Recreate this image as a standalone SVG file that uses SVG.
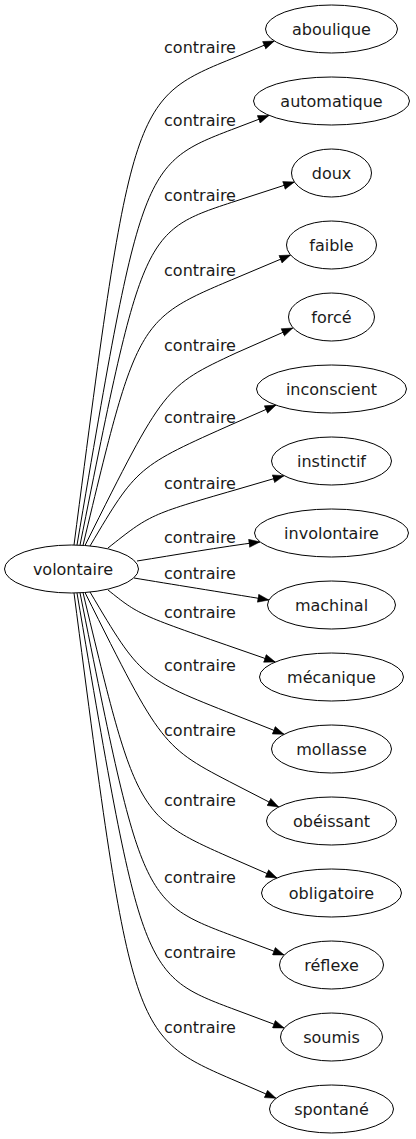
<svg xmlns="http://www.w3.org/2000/svg" width="416" height="1139" viewBox="0 0 416 1139">
<style>
.n ellipse{fill:#fff;stroke:#000;stroke-width:1}
.n text,.lbl text{font-family:"DejaVu Sans",sans-serif;font-size:16px;fill:#1a1a1a;text-anchor:middle}
.e path{fill:none;stroke:#000;stroke-width:1;marker-end:url(#arr)}
</style>
<defs>
<marker id="arr" markerUnits="userSpaceOnUse" markerWidth="12" markerHeight="9" refX="11.5" refY="4.5" orient="auto">
<path d="M0.5,0.5 L11.5,4.5 L0.5,8.5 z" fill="#000" stroke="#000" stroke-width="0.5"/>
</marker>
</defs>
<rect width="416" height="1139" fill="#fff"/>
<g id="edges" class="e">
<path d="M74,545 C132,99 132,99 236,57 L274.3,41"/>
<path d="M77,545 C141.8,163.8 141.8,163.8 236,128 L269,115.4"/>
<path d="M80,545.2 C142.8,231.3 142.8,231.3 236,201 L294.4,182"/>
<path d="M83,545.4 C137.1,319.5 137.1,319.5 236,278 L290.6,255"/>
<path d="M85,545.5 C164.5,386.4 164.5,386.4 236,353 L292.8,328"/>
<path d="M90,546 C137.1,466.5 137.1,466.5 235,423 L276,405.1"/>
<path d="M108,548 C150,514.6 150,514.6 235,490 L284,475.7"/>
<path d="M137,561 C175,555 220,547 260,541.9"/>
<path d="M134,578 C170,584 220,592 268.9,600"/>
<path d="M108,590 C138.7,614.6 138.7,614.6 235,648 L275.3,662"/>
<path d="M90,592 C140.9,677.9 140.9,677.9 235,715 L284,734.3"/>
<path d="M85,592.5 C161.9,746.8 161.9,746.8 236,785 L278.7,807"/>
<path d="M83,592.6 C136.8,816.6 136.8,816.6 236,860 L277,877.9"/>
<path d="M80,592.8 C141.8,901.9 141.8,901.9 236,937 L284.2,955"/>
<path d="M77,593 C141.9,974.9 141.9,974.9 236,1010 L284.2,1028"/>
<path d="M74,593 C131.6,1036.1 131.6,1036.1 236,1081 L276,1098.3"/>
</g>
<g id="labels" class="lbl">
<text x="200" y="53">contraire</text>
<text x="200" y="126">contraire</text>
<text x="200" y="201">contraire</text>
<text x="200" y="276">contraire</text>
<text x="200" y="351">contraire</text>
<text x="200" y="423">contraire</text>
<text x="200" y="489">contraire</text>
<text x="200" y="543">contraire</text>
<text x="200" y="579">contraire</text>
<text x="200" y="618">contraire</text>
<text x="200" y="671">contraire</text>
<text x="200" y="736">contraire</text>
<text x="200" y="806">contraire</text>
<text x="200" y="883">contraire</text>
<text x="200" y="958">contraire</text>
<text x="200" y="1033">contraire</text>
</g>
<g id="volontaire" class="n"><ellipse cx="71.5" cy="569" rx="67" ry="24"/><text x="73" y="575">volontaire</text></g>
<g id="aboulique" class="n"><ellipse cx="331.5" cy="29" rx="66" ry="24"/><text x="331.5" y="35">aboulique</text></g>
<g id="automatique" class="n"><ellipse cx="331.5" cy="101" rx="78" ry="24"/><text x="331.5" y="107">automatique</text></g>
<g id="doux" class="n"><ellipse cx="331.5" cy="173" rx="40" ry="24"/><text x="331.5" y="179">doux</text></g>
<g id="faible" class="n"><ellipse cx="331.5" cy="245" rx="45" ry="24"/><text x="331.5" y="251">faible</text></g>
<g id="force" class="n"><ellipse cx="331.5" cy="317" rx="43" ry="24"/><text x="331.5" y="323">forcé</text></g>
<g id="inconscient" class="n"><ellipse cx="331.5" cy="389" rx="75" ry="24"/><text x="331.5" y="395">inconscient</text></g>
<g id="instinctif" class="n"><ellipse cx="331.5" cy="461" rx="60" ry="24"/><text x="331.5" y="467">instinctif</text></g>
<g id="involontaire" class="n"><ellipse cx="331.5" cy="533" rx="77" ry="24"/><text x="331.5" y="539">involontaire</text></g>
<g id="machinal" class="n"><ellipse cx="331.5" cy="605" rx="64" ry="24"/><text x="331.5" y="611">machinal</text></g>
<g id="mecanique" class="n"><ellipse cx="331.5" cy="677" rx="72" ry="24"/><text x="331.5" y="683">mécanique</text></g>
<g id="mollasse" class="n"><ellipse cx="331.5" cy="749" rx="60" ry="24"/><text x="331.5" y="755">mollasse</text></g>
<g id="obeissant" class="n"><ellipse cx="331.5" cy="821" rx="65" ry="24"/><text x="331.5" y="827">obéissant</text></g>
<g id="obligatoire" class="n"><ellipse cx="331.5" cy="893" rx="70" ry="24"/><text x="331.5" y="899">obligatoire</text></g>
<g id="reflexe" class="n"><ellipse cx="331.5" cy="965" rx="52" ry="24"/><text x="331.5" y="971">réflexe</text></g>
<g id="soumis" class="n"><ellipse cx="331.5" cy="1037" rx="51" ry="24"/><text x="331.5" y="1043">soumis</text></g>
<g id="spontane" class="n"><ellipse cx="331.5" cy="1109" rx="62" ry="24"/><text x="331.5" y="1115">spontané</text></g>
</svg>
